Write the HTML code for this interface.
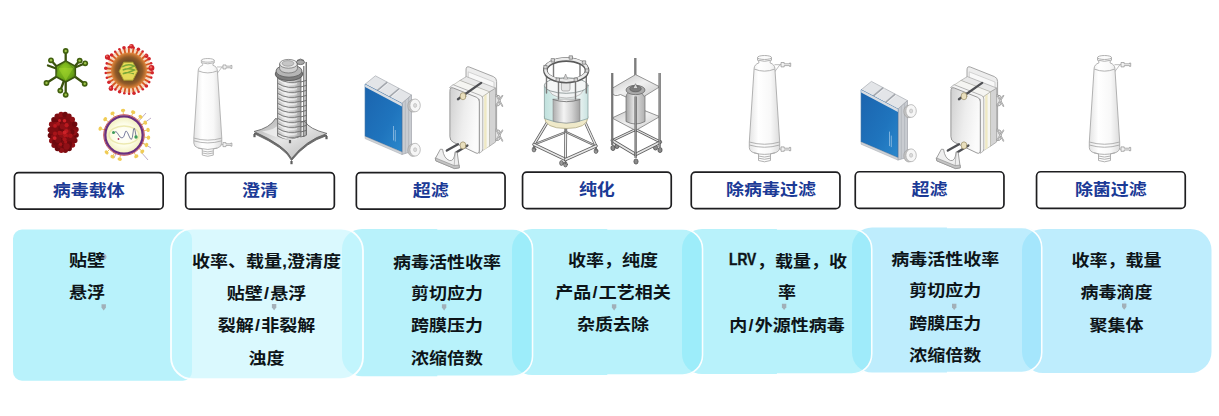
<!DOCTYPE html>
<html lang="zh-CN">
<head>
<meta charset="utf-8">
<title>病毒载体工艺流程</title>
<style>
html,body{margin:0;padding:0;background:#fff;}
#stage{position:relative;width:1219px;height:416px;overflow:hidden;background:#fff;
  font-family:"Liberation Sans","Noto Sans CJK SC",sans-serif;}
#bg{position:absolute;left:0;top:0;}
.lbl{position:absolute;box-sizing:border-box;border:0;
  height:38.2px;width:150.4px;background:transparent;color:#1b3a96;font-weight:700;font-size:18px;
  text-align:center;line-height:38.2px;}
.lbl span{display:inline-block;transform:scaleY(0.915);transform-origin:50% 50%;}
.t{position:absolute;width:200px;margin-left:-100px;text-align:center;white-space:nowrap;
  font-weight:700;font-size:18px;line-height:24px;height:24px;color:#0d1418;
  transform:scaleY(0.915);transform-origin:50% 50%;}
.t .en{display:inline-block;font-size:17.2px;transform:scaleX(0.8);transform-origin:0 50%;margin-right:-5.6px;position:relative;top:-3.4px;-webkit-text-stroke:0.45px #0d1418;}
.t .sl{margin:0 1.2px;}
.art{position:absolute;left:0;top:0;}
</style>
</head>
<body>
<div id="stage">
<svg id="bg" width="1219" height="416" viewBox="0 0 1219 416">
<path d="M1043,229 H1190.5 A21,21 0 0 1 1211.5,250 V352 A21,21 0 0 1 1190.5,373 H1043 A21,21 0 0 1 1022,352 V250 A21,21 0 0 1 1043,229 Z" fill="#96e2fb" fill-opacity="0.62"/>
<path d="M872,227.5 H1022.8 A20,20 0 0 1 1042.8,247.5 V352.5 A20,20 0 0 1 1022.8,372.5 H872 A20,20 0 0 1 852,352.5 V247.5 A20,20 0 0 1 872,227.5 Z" fill="#96e2fb" fill-opacity="0.62"/>
<path d="M946.9,227.5 H1021.8 A20,20 0 0 1 1041.8,247.5 V352.5 A20,20 0 0 1 1021.8,372.5 H946.9" fill="none" stroke="#fff" stroke-width="1.7" stroke-opacity="0.95"/>
<path d="M702,229 H852.8 A20,20 0 0 1 872.8,249 V354 A20,20 0 0 1 852.8,374 H702 A20,20 0 0 1 682,354 V249 A20,20 0 0 1 702,229 Z" fill="#8ceaf8" fill-opacity="0.62"/>
<path d="M776.9,229 H851.8 A20,20 0 0 1 871.8,249 V354 A20,20 0 0 1 851.8,374 H776.9" fill="none" stroke="#fff" stroke-width="1.7" stroke-opacity="0.95"/>
<path d="M532,229 H683.6 A20,20 0 0 1 703.6,249 V355 A20,20 0 0 1 683.6,375 H532 A20,20 0 0 1 512,355 V249 A20,20 0 0 1 532,229 Z" fill="#8ceaf8" fill-opacity="0.62"/>
<path d="M607.3,229 H682.6 A20,20 0 0 1 702.6,249 V355 A20,20 0 0 1 682.6,375 H607.3" fill="none" stroke="#fff" stroke-width="1.7" stroke-opacity="0.95"/>
<path d="M362,229 H513.6 A20,20 0 0 1 533.6,249 V356.3 A20,20 0 0 1 513.6,376.3 H362 A20,20 0 0 1 342,356.3 V249 A20,20 0 0 1 362,229 Z" fill="#8ceaf8" fill-opacity="0.62"/>
<path d="M437.3,229 H512.6 A20,20 0 0 1 532.6,249 V356.3 A20,20 0 0 1 512.6,376.3 H437.3" fill="none" stroke="#fff" stroke-width="1.7" stroke-opacity="0.95"/>
<path d="M22,229.5 H183 A9,9 0 0 1 192,238.5 V371.7 A9,9 0 0 1 183,380.7 H22 A9,9 0 0 1 13,371.7 V238.5 A9,9 0 0 1 22,229.5 Z" fill="#8ceaf8" fill-opacity="0.62"/>
<path d="M193,228.6 H341 A22,22 0 0 1 363,250.6 V357.2 A22,22 0 0 1 341,379.2 H193 A22,22 0 0 1 171,357.2 V250.6 A22,22 0 0 1 193,228.6 Z" fill="#c8f6fd" fill-opacity="0.667" stroke="#fff" stroke-width="1.8" stroke-opacity="0.92"/>
<path d="M101.5,304.2 h4.4 v3.4 l-2.2,2.8 l-2.2,-2.8 z" fill="#9fa9b0" fill-opacity="0.9"/>
<path d="M271.90000000000003,304.09999999999997 h4.4 v3.4 l-2.2,2.8 l-2.2,-2.8 z" fill="#9fa9b0" fill-opacity="0.9"/>
<path d="M441.90000000000003,304.2 h4.4 v3.4 l-2.2,2.8 l-2.2,-2.8 z" fill="#9fa9b0" fill-opacity="0.9"/>
<path d="M611.9,304.2 h4.4 v3.4 l-2.2,2.8 l-2.2,-2.8 z" fill="#9fa9b0" fill-opacity="0.9"/>
<path d="M781.9,303.79999999999995 h4.4 v3.4 l-2.2,2.8 l-2.2,-2.8 z" fill="#9fa9b0" fill-opacity="0.9"/>
<path d="M952.0,303.79999999999995 h4.4 v3.4 l-2.2,2.8 l-2.2,-2.8 z" fill="#9fa9b0" fill-opacity="0.9"/>
<path d="M1122.0,303.5 h4.4 v3.4 l-2.2,2.8 l-2.2,-2.8 z" fill="#9fa9b0" fill-opacity="0.9"/>
<circle cx="103.6" cy="256.8" r="2.9" fill="#a7b0c2"/>
<rect x="14.45" y="172.55" width="148.7" height="36.6" rx="4.2" fill="#fff" stroke="#1e1e20" stroke-width="1.7"/>
<rect x="185.65" y="172.55" width="148.7" height="36.6" rx="4.2" fill="#fff" stroke="#1e1e20" stroke-width="1.7"/>
<rect x="356.35" y="172.55" width="148.7" height="36.6" rx="4.2" fill="#fff" stroke="#1e1e20" stroke-width="1.7"/>
<rect x="522.55" y="172.05" width="148.7" height="36.6" rx="4.2" fill="#fff" stroke="#1e1e20" stroke-width="1.7"/>
<rect x="691.25" y="172.05" width="148.7" height="36.6" rx="4.2" fill="#fff" stroke="#1e1e20" stroke-width="1.7"/>
<rect x="855.25" y="171.75" width="148.7" height="36.6" rx="4.2" fill="#fff" stroke="#1e1e20" stroke-width="1.7"/>
<rect x="1036.55" y="171.75" width="148.7" height="36.6" rx="4.2" fill="#fff" stroke="#1e1e20" stroke-width="1.7"/>
</svg>
<div class="lbl" style="left:13.6px;top:171.7px;"><span>病毒载体</span></div>
<div class="lbl" style="left:184.8px;top:171.7px;"><span>澄清</span></div>
<div class="lbl" style="left:355.5px;top:171.7px;"><span>超滤</span></div>
<div class="lbl" style="left:521.7px;top:171.2px;"><span>纯化</span></div>
<div class="lbl" style="left:690.4px;top:171.2px;padding-left:11px;"><span>除病毒过滤</span></div>
<div class="lbl" style="left:854.4px;top:170.9px;"><span>超滤</span></div>
<div class="lbl" style="left:1035.7px;top:170.9px;"><span>除菌过滤</span></div>
<div class="t" style="left:87px;top:248.8px">贴壁</div>
<div class="t" style="left:87px;top:280.8px">悬浮</div>
<div class="t" style="left:266.5px;top:249.8px">收率、载量,澄清度</div>
<div class="t" style="left:266.5px;top:281.8px">贴壁<span class="sl">/</span>悬浮</div>
<div class="t" style="left:266.5px;top:313.8px">裂解<span class="sl">/</span>非裂解</div>
<div class="t" style="left:266.5px;top:346.7px">浊度</div>
<div class="t" style="left:447px;top:250.5px">病毒活性收率</div>
<div class="t" style="left:447px;top:282.4px">剪切应力</div>
<div class="t" style="left:447px;top:314.4px">跨膜压力</div>
<div class="t" style="left:447px;top:346.5px">浓缩倍数</div>
<div class="t" style="left:613px;top:248.8px">收率，纯度</div>
<div class="t" style="left:613px;top:280.8px">产品<span class="sl">/</span>工艺相关</div>
<div class="t" style="left:613px;top:313.3px">杂质去除</div>
<div class="t" style="left:787.8px;top:249.8px"><span class="en">LRV</span>，载量，收</div>
<div class="t" style="left:787px;top:281.3px">率</div>
<div class="t" style="left:787px;top:314.3px">内<span class="sl">/</span>外源性病毒</div>
<div class="t" style="left:945.3px;top:247.6px">病毒活性收率</div>
<div class="t" style="left:945.3px;top:279.4px">剪切应力</div>
<div class="t" style="left:945.3px;top:311.5px">跨膜压力</div>
<div class="t" style="left:945.3px;top:343.7px">浓缩倍数</div>
<div class="t" style="left:1116.4px;top:248.6px">收率，载量</div>
<div class="t" style="left:1116.4px;top:280.9px">病毒滴度</div>
<div class="t" style="left:1116.4px;top:313.6px">聚集体</div>
<svg class="art" width="1219" height="416" viewBox="0 0 1219 416">
<defs>
<radialGradient id="gvg" cx="0.45" cy="0.4" r="0.7"><stop offset="0" stop-color="#93cc22"/><stop offset="0.65" stop-color="#69a317"/><stop offset="1" stop-color="#4b7612"/></radialGradient>
<radialGradient id="ovg" cx="0.5" cy="0.5" r="0.5"><stop offset="0" stop-color="#5c4a30"/><stop offset="0.5" stop-color="#6a4a26"/><stop offset="0.75" stop-color="#8f5a28"/><stop offset="0.9" stop-color="#c27230"/><stop offset="1" stop-color="#dd8a3c" stop-opacity="0.9"/></radialGradient>
<radialGradient id="svg4" cx="0.5" cy="0.5" r="0.5"><stop offset="0" stop-color="#ffffff"/><stop offset="0.55" stop-color="#fdfde9"/><stop offset="1" stop-color="#efecb4"/></radialGradient>
<linearGradient id="capg" x1="0" x2="1" y1="0" y2="0"><stop offset="0" stop-color="#e4e4e4"/><stop offset="0.3" stop-color="#ffffff"/><stop offset="0.7" stop-color="#f8f8f8"/><stop offset="1" stop-color="#dcdcdc"/></linearGradient>
<linearGradient id="plg" x1="0" x2="1" y1="0" y2="1"><stop offset="0" stop-color="#a8a8a8"/><stop offset="0.45" stop-color="#e6e6e6"/><stop offset="1" stop-color="#b2b2b2"/></linearGradient>
<linearGradient id="colg" x1="0" x2="1" y1="0" y2="0"><stop offset="0" stop-color="#bdbdbd"/><stop offset="0.35" stop-color="#ececec"/><stop offset="0.7" stop-color="#d0d0d0"/><stop offset="1" stop-color="#9b9b9b"/></linearGradient>
<linearGradient id="blug" x1="0" x2="1" y1="0" y2="1"><stop offset="0" stop-color="#1b64ae"/><stop offset="0.6" stop-color="#1f74bd"/><stop offset="1" stop-color="#2b88cc"/></linearGradient>
<linearGradient id="fpg" x1="0" x2="1" y1="0" y2="0.3"><stop offset="0" stop-color="#cfcfcf"/><stop offset="0.55" stop-color="#ededed"/><stop offset="1" stop-color="#fbfbfb"/></linearGradient>
<linearGradient id="glsg" x1="0" x2="1" y1="0" y2="0"><stop offset="0" stop-color="#bfe0dc"/><stop offset="0.2" stop-color="#d3ebe8"/><stop offset="0.38" stop-color="#f2f8f7"/><stop offset="0.8" stop-color="#eaf3f2"/><stop offset="1" stop-color="#c9e2e0"/></linearGradient>
<linearGradient id="metg" x1="0" x2="1" y1="0" y2="0"><stop offset="0" stop-color="#adadad"/><stop offset="0.4" stop-color="#f4f4f4"/><stop offset="0.7" stop-color="#d2d2d2"/><stop offset="1" stop-color="#a2a2a2"/></linearGradient>
<linearGradient id="shg" x1="0" x2="1" y1="0" y2="1"><stop offset="0" stop-color="#c2c2c2"/><stop offset="0.5" stop-color="#f0f0f0"/><stop offset="1" stop-color="#c9c9c9"/></linearGradient>
<linearGradient id="cylg" x1="0" x2="1" y1="0" y2="0"><stop offset="0" stop-color="#a3a3a3"/><stop offset="0.4" stop-color="#e2e2e2"/><stop offset="1" stop-color="#b0b0b0"/></linearGradient>
</defs>
<line x1="65.7" y1="61.5" x2="65.7" y2="51.0" stroke="#3b520e" stroke-width="2.3" stroke-linecap="round"/>
<line x1="56.7" y1="66.5" x2="51.0" y2="60.3" stroke="#3b520e" stroke-width="2.3" stroke-linecap="round"/>
<line x1="56.2" y1="68.5" x2="48.0" y2="65.5" stroke="#3b520e" stroke-width="2.3" stroke-linecap="round"/>
<line x1="74.7" y1="66.5" x2="79.7" y2="60.6" stroke="#3b520e" stroke-width="2.3" stroke-linecap="round"/>
<line x1="75.0" y1="67.5" x2="85.2" y2="63.3" stroke="#3b520e" stroke-width="2.3" stroke-linecap="round"/>
<line x1="56.7" y1="76.5" x2="46.5" y2="83.0" stroke="#3b520e" stroke-width="2.3" stroke-linecap="round"/>
<line x1="74.7" y1="76.5" x2="84.7" y2="83.8" stroke="#3b520e" stroke-width="2.3" stroke-linecap="round"/>
<line x1="63.7" y1="81.5" x2="60.3" y2="90.6" stroke="#3b520e" stroke-width="2.3" stroke-linecap="round"/>
<line x1="65.7" y1="81.5" x2="65.7" y2="94.8" stroke="#3b520e" stroke-width="2.3" stroke-linecap="round"/>
<circle cx="65.7" cy="51.0" r="2.9" fill="#41600f"/><circle cx="65.7" cy="51.0" r="1.2" fill="#9fc54a"/>
<circle cx="51.0" cy="60.3" r="2.9" fill="#41600f"/><circle cx="51.0" cy="60.3" r="1.2" fill="#9fc54a"/>
<circle cx="79.7" cy="60.6" r="2.9" fill="#41600f"/><circle cx="79.7" cy="60.6" r="1.2" fill="#9fc54a"/>
<circle cx="85.2" cy="63.3" r="2.9" fill="#41600f"/><circle cx="85.2" cy="63.3" r="1.2" fill="#9fc54a"/>
<circle cx="46.5" cy="83.0" r="2.9" fill="#41600f"/><circle cx="46.5" cy="83.0" r="1.2" fill="#9fc54a"/>
<circle cx="84.7" cy="83.8" r="2.9" fill="#41600f"/><circle cx="84.7" cy="83.8" r="1.2" fill="#9fc54a"/>
<circle cx="60.3" cy="90.6" r="2.9" fill="#41600f"/><circle cx="60.3" cy="90.6" r="1.2" fill="#9fc54a"/>
<circle cx="65.7" cy="94.8" r="2.9" fill="#41600f"/><circle cx="65.7" cy="94.8" r="1.2" fill="#9fc54a"/>
<polygon points="65.7,61.0 75.3,66.2 75.3,76.8 65.7,82.0 56.1,76.8 56.1,66.2" fill="url(#gvg)" stroke="#3a5410" stroke-width="1.6" stroke-linejoin="round"/>
<polygon points="58.2,68.0 73.2,68.0 65.7,80.5" fill="#9fd22c" fill-opacity="0.55"/>
<path d="M65.7,61.0 L58.2,68.0 M65.7,61.0 L73.2,68.0 M56.1,76.8 L58.2,68.0 M75.3,76.8 L73.2,68.0" stroke="#55801a" stroke-width="0.6" fill="none"/>
<circle cx="129" cy="70.5" r="22.5" fill="#e9a468" fill-opacity="0.42"/>
<line x1="144.4" y1="72.0" x2="151.2" y2="72.7" stroke="#d9551f" stroke-width="1.8"/>
<circle cx="152.2" cy="72.8" r="1.8" fill="#d3262b"/>
<line x1="143.8" y1="75.2" x2="150.2" y2="77.3" stroke="#d9551f" stroke-width="1.8"/>
<circle cx="151.2" cy="77.6" r="1.3" fill="#d3262b"/>
<line x1="142.5" y1="78.2" x2="148.4" y2="81.6" stroke="#d9551f" stroke-width="1.8"/>
<circle cx="149.2" cy="82.1" r="1.3" fill="#d3262b"/>
<line x1="140.6" y1="80.8" x2="145.6" y2="85.3" stroke="#d9551f" stroke-width="1.8"/>
<circle cx="146.4" cy="86.0" r="1.8" fill="#d3262b"/>
<line x1="138.2" y1="83.0" x2="142.2" y2="88.5" stroke="#d9551f" stroke-width="1.8"/>
<circle cx="142.8" cy="89.3" r="1.3" fill="#d3262b"/>
<line x1="135.4" y1="84.6" x2="138.2" y2="90.8" stroke="#d9551f" stroke-width="1.8"/>
<circle cx="138.6" cy="91.7" r="1.3" fill="#d3262b"/>
<line x1="132.3" y1="85.6" x2="133.7" y2="92.3" stroke="#d9551f" stroke-width="1.8"/>
<circle cx="134.0" cy="93.3" r="1.8" fill="#d3262b"/>
<line x1="129.1" y1="86.0" x2="129.1" y2="92.8" stroke="#d9551f" stroke-width="1.8"/>
<circle cx="129.1" cy="93.8" r="1.3" fill="#d3262b"/>
<line x1="125.8" y1="85.7" x2="124.5" y2="92.3" stroke="#d9551f" stroke-width="1.8"/>
<circle cx="124.3" cy="93.3" r="1.3" fill="#d3262b"/>
<line x1="122.8" y1="84.7" x2="120.0" y2="90.9" stroke="#d9551f" stroke-width="1.8"/>
<circle cx="119.6" cy="91.8" r="1.8" fill="#d3262b"/>
<line x1="119.9" y1="83.1" x2="116.0" y2="88.6" stroke="#d9551f" stroke-width="1.8"/>
<circle cx="115.4" cy="89.4" r="1.3" fill="#d3262b"/>
<line x1="117.5" y1="80.9" x2="112.5" y2="85.5" stroke="#d9551f" stroke-width="1.8"/>
<circle cx="111.8" cy="86.2" r="1.3" fill="#d3262b"/>
<line x1="115.6" y1="78.3" x2="109.7" y2="81.7" stroke="#d9551f" stroke-width="1.8"/>
<circle cx="108.9" cy="82.2" r="1.8" fill="#d3262b"/>
<line x1="114.3" y1="75.4" x2="107.8" y2="77.5" stroke="#d9551f" stroke-width="1.8"/>
<circle cx="106.9" cy="77.8" r="1.3" fill="#d3262b"/>
<line x1="113.6" y1="72.2" x2="106.8" y2="72.9" stroke="#d9551f" stroke-width="1.8"/>
<circle cx="105.8" cy="73.0" r="1.3" fill="#d3262b"/>
<line x1="113.6" y1="69.0" x2="106.8" y2="68.3" stroke="#d9551f" stroke-width="1.8"/>
<circle cx="105.8" cy="68.2" r="1.8" fill="#d3262b"/>
<line x1="114.2" y1="65.8" x2="107.8" y2="63.7" stroke="#d9551f" stroke-width="1.8"/>
<circle cx="106.8" cy="63.4" r="1.3" fill="#d3262b"/>
<line x1="115.5" y1="62.8" x2="109.6" y2="59.4" stroke="#d9551f" stroke-width="1.8"/>
<circle cx="108.8" cy="58.9" r="1.3" fill="#d3262b"/>
<line x1="117.4" y1="60.2" x2="112.4" y2="55.7" stroke="#d9551f" stroke-width="1.8"/>
<circle cx="111.6" cy="55.0" r="1.8" fill="#d3262b"/>
<line x1="119.8" y1="58.0" x2="115.8" y2="52.5" stroke="#d9551f" stroke-width="1.8"/>
<circle cx="115.2" cy="51.7" r="1.3" fill="#d3262b"/>
<line x1="122.6" y1="56.4" x2="119.8" y2="50.2" stroke="#d9551f" stroke-width="1.8"/>
<circle cx="119.4" cy="49.3" r="1.3" fill="#d3262b"/>
<line x1="125.7" y1="55.4" x2="124.3" y2="48.7" stroke="#d9551f" stroke-width="1.8"/>
<circle cx="124.0" cy="47.7" r="1.8" fill="#d3262b"/>
<line x1="128.9" y1="55.0" x2="128.9" y2="48.2" stroke="#d9551f" stroke-width="1.8"/>
<circle cx="128.9" cy="47.2" r="1.3" fill="#d3262b"/>
<line x1="132.2" y1="55.3" x2="133.5" y2="48.7" stroke="#d9551f" stroke-width="1.8"/>
<circle cx="133.7" cy="47.7" r="1.3" fill="#d3262b"/>
<line x1="135.2" y1="56.3" x2="138.0" y2="50.1" stroke="#d9551f" stroke-width="1.8"/>
<circle cx="138.4" cy="49.2" r="1.8" fill="#d3262b"/>
<line x1="138.1" y1="57.9" x2="142.0" y2="52.4" stroke="#d9551f" stroke-width="1.8"/>
<circle cx="142.6" cy="51.6" r="1.3" fill="#d3262b"/>
<line x1="140.5" y1="60.1" x2="145.5" y2="55.5" stroke="#d9551f" stroke-width="1.8"/>
<circle cx="146.2" cy="54.8" r="1.3" fill="#d3262b"/>
<line x1="142.4" y1="62.7" x2="148.3" y2="59.3" stroke="#d9551f" stroke-width="1.8"/>
<circle cx="149.1" cy="58.8" r="1.8" fill="#d3262b"/>
<line x1="143.7" y1="65.6" x2="150.2" y2="63.5" stroke="#d9551f" stroke-width="1.8"/>
<circle cx="151.1" cy="63.2" r="1.3" fill="#d3262b"/>
<line x1="144.4" y1="68.8" x2="151.2" y2="68.1" stroke="#d9551f" stroke-width="1.8"/>
<circle cx="152.2" cy="68.0" r="1.3" fill="#d3262b"/>
<circle cx="129" cy="70.5" r="18" fill="url(#ovg)"/>
<circle cx="107.5" cy="57" r="2.6" fill="#cf2228"/><circle cx="106.9" cy="56.3" r="1.0" fill="#ee6a60"/>
<circle cx="151.5" cy="68" r="2.9" fill="#cf2228"/><circle cx="150.9" cy="67.3" r="1.2" fill="#ee6a60"/>
<circle cx="111" cy="88.5" r="2.4" fill="#cf2228"/><circle cx="110.4" cy="87.8" r="1.0" fill="#ee6a60"/>
<circle cx="131.5" cy="46.3" r="2.4" fill="#cf2228"/><circle cx="130.9" cy="45.599999999999994" r="1.0" fill="#ee6a60"/>
<circle cx="146.5" cy="56" r="2.0" fill="#cf2228"/><circle cx="145.9" cy="55.3" r="0.8" fill="#ee6a60"/>
<polygon points="119.1,71.2 123.7,62.2 132.9,62.2 137.5,71.2 132.9,80.2 123.7,80.2" fill="#e4da58" stroke="#a79a2c" stroke-width="0.9" stroke-linejoin="round"/>
<path d="M122.80000000000001,66.60000000000001 q5.5,-3.4 11.5,-0.4 q-6,3 -11.5,3.8 q5.5,-2.4 11.5,0 q-6,3 -11.5,3.8 q5.5,-2.4 10.5,-0.2" fill="none" stroke="#7aa838" stroke-width="1.5" stroke-linecap="round"/>
<ellipse cx="63.2" cy="132.4" rx="13.8" ry="18.9" fill="#7c0c11"/>
<circle cx="76.1" cy="135.1" r="2.7" fill="#6d090e"/>
<circle cx="74.8" cy="140.5" r="2.7" fill="#7f0d12"/>
<circle cx="72.5" cy="145.1" r="2.7" fill="#8f1016"/>
<circle cx="69.2" cy="148.5" r="2.7" fill="#6d090e"/>
<circle cx="65.3" cy="150.3" r="2.7" fill="#7f0d12"/>
<circle cx="61.3" cy="150.3" r="2.7" fill="#8f1016"/>
<circle cx="57.4" cy="148.6" r="2.7" fill="#6d090e"/>
<circle cx="54.1" cy="145.3" r="2.7" fill="#7f0d12"/>
<circle cx="51.7" cy="140.7" r="2.7" fill="#8f1016"/>
<circle cx="50.4" cy="135.4" r="2.7" fill="#6d090e"/>
<circle cx="50.3" cy="129.7" r="2.7" fill="#7f0d12"/>
<circle cx="51.6" cy="124.3" r="2.7" fill="#8f1016"/>
<circle cx="53.9" cy="119.7" r="2.7" fill="#6d090e"/>
<circle cx="57.2" cy="116.3" r="2.7" fill="#7f0d12"/>
<circle cx="61.1" cy="114.5" r="2.7" fill="#8f1016"/>
<circle cx="65.1" cy="114.5" r="2.7" fill="#6d090e"/>
<circle cx="69.0" cy="116.2" r="2.7" fill="#7f0d12"/>
<circle cx="72.3" cy="119.5" r="2.7" fill="#8f1016"/>
<circle cx="74.7" cy="124.1" r="2.7" fill="#6d090e"/>
<circle cx="76.0" cy="129.4" r="2.7" fill="#7f0d12"/>
<circle cx="55.3" cy="135.7" r="3.1" fill="#7f0d12"/>
<circle cx="53.5" cy="136.6" r="2.4" fill="#8f1016"/>
<circle cx="54.7" cy="134.2" r="2.4" fill="#7f0d12"/>
<circle cx="62.1" cy="136.7" r="3.0" fill="#8f1016"/>
<circle cx="57.6" cy="123.6" r="2.6" fill="#7f0d12"/>
<circle cx="58.3" cy="122.6" r="2.4" fill="#6d090e"/>
<circle cx="64.6" cy="129.1" r="2.2" fill="#6d090e"/>
<circle cx="55.3" cy="124.6" r="2.5" fill="#8f1016"/>
<circle cx="67.5" cy="123.3" r="2.8" fill="#7f0d12"/>
<circle cx="66.4" cy="132.5" r="2.9" fill="#7f0d12"/>
<circle cx="74.2" cy="132.2" r="3.0" fill="#8f1016"/>
<circle cx="63.0" cy="145.6" r="2.7" fill="#6d090e"/>
<circle cx="71.9" cy="138.1" r="2.6" fill="#7f0d12"/>
<circle cx="55.1" cy="142.1" r="3.0" fill="#6d090e"/>
<circle cx="65.6" cy="146.6" r="2.3" fill="#7f0d12"/>
<circle cx="70.1" cy="131.2" r="2.3" fill="#8f1016"/>
<circle cx="66.1" cy="144.2" r="2.5" fill="#7f0d12"/>
<circle cx="57.8" cy="145.3" r="3.0" fill="#6d090e"/>
<circle cx="69.3" cy="141.9" r="2.2" fill="#7f0d12"/>
<circle cx="64.5" cy="126.3" r="2.8" fill="#7f0d12"/>
<circle cx="52.3" cy="131.6" r="3.0" fill="#7f0d12"/>
<circle cx="60.9" cy="128.3" r="2.6" fill="#6d090e"/>
<circle cx="73.4" cy="132.4" r="3.2" fill="#8f1016"/>
<circle cx="59.8" cy="145.9" r="2.4" fill="#7f0d12"/>
<circle cx="71.7" cy="132.1" r="2.8" fill="#6d090e"/>
<circle cx="68.3" cy="131.9" r="2.5" fill="#8f1016"/>
<circle cx="60.4" cy="139.7" r="2.3" fill="#6d090e"/>
<circle cx="65.4" cy="144.1" r="2.2" fill="#7f0d12"/>
<circle cx="58.1" cy="139.8" r="3.2" fill="#7f0d12"/>
<circle cx="65.2" cy="127.5" r="2.6" fill="#8f1016"/>
<circle cx="69.1" cy="144.3" r="3.0" fill="#6d090e"/>
<circle cx="62.5" cy="126.4" r="2.8" fill="#8f1016"/>
<circle cx="66.7" cy="146.4" r="3.1" fill="#8f1016"/>
<circle cx="65.3" cy="134.0" r="2.3" fill="#8f1016"/>
<circle cx="66.4" cy="131.0" r="2.1" fill="#bb191f"/>
<circle cx="54.7" cy="138.1" r="1.9" fill="#cc2228"/>
<circle cx="65.6" cy="141.9" r="1.6" fill="#a81419"/>
<circle cx="55.0" cy="133.7" r="2.1" fill="#a81419"/>
<circle cx="60.6" cy="144.3" r="1.7" fill="#a81419"/>
<circle cx="67.4" cy="135.8" r="1.7" fill="#a81419"/>
<circle cx="64.6" cy="139.2" r="2.0" fill="#a81419"/>
<circle cx="65.0" cy="135.0" r="1.9" fill="#bb191f"/>
<circle cx="58.1" cy="123.7" r="2.0" fill="#a81419"/>
<circle cx="55.0" cy="125.9" r="1.9" fill="#bb191f"/>
<circle cx="59.5" cy="120.6" r="1.5" fill="#cc2228"/>
<circle cx="64.3" cy="133.9" r="1.8" fill="#a81419"/>
<circle cx="64.6" cy="132.4" r="2.0" fill="#cc2228"/>
<circle cx="70.5" cy="135.8" r="2.2" fill="#a81419"/>
<circle cx="64.5" cy="120.8" r="1.8" fill="#cc2228"/>
<circle cx="59.7" cy="133.0" r="2.3" fill="#a81419"/>
<circle cx="66.6" cy="125.2" r="2.1" fill="#bb191f"/>
<circle cx="61.5" cy="133.4" r="1.6" fill="#a81419"/>
<line x1="128" y1="133" x2="146" y2="113" stroke="#7b5a93" stroke-width="0.5"/>
<line x1="133" y1="131" x2="151" y2="118" stroke="#7b5a93" stroke-width="0.5"/>
<line x1="138" y1="140" x2="151" y2="148" stroke="#7b5a93" stroke-width="0.5"/>
<line x1="122" y1="140" x2="114" y2="158" stroke="#7b5a93" stroke-width="0.5"/>
<line x1="141" y1="152" x2="148" y2="160" stroke="#7b5a93" stroke-width="0.5"/>
<line x1="108.3" y1="121.8" x2="105.2" y2="119.2" stroke="#e2b73c" stroke-width="0.8"/>
<ellipse cx="105.2" cy="119.2" rx="2.2" ry="1.7" transform="rotate(-50 105.2 119.2)" fill="#f0cc55"/>
<line x1="114.4" y1="116.9" x2="112.5" y2="113.3" stroke="#e2b73c" stroke-width="0.8"/>
<ellipse cx="112.5" cy="113.3" rx="2.2" ry="1.7" transform="rotate(-28 112.5 113.3)" fill="#f0cc55"/>
<line x1="123.3" y1="114.5" x2="123.1" y2="110.4" stroke="#e2b73c" stroke-width="0.8"/>
<ellipse cx="123.1" cy="110.4" rx="2.2" ry="1.7" transform="rotate(-2 123.1 110.4)" fill="#f0cc55"/>
<line x1="131.7" y1="116.0" x2="133.2" y2="112.2" stroke="#e2b73c" stroke-width="0.8"/>
<ellipse cx="133.2" cy="112.2" rx="2.2" ry="1.7" transform="rotate(22 133.2 112.2)" fill="#f0cc55"/>
<line x1="137.7" y1="119.8" x2="140.5" y2="116.7" stroke="#e2b73c" stroke-width="0.8"/>
<ellipse cx="140.5" cy="116.7" rx="2.2" ry="1.7" transform="rotate(42 140.5 116.7)" fill="#f0cc55"/>
<line x1="141.8" y1="124.8" x2="145.3" y2="122.7" stroke="#e2b73c" stroke-width="0.8"/>
<ellipse cx="145.3" cy="122.7" rx="2.2" ry="1.7" transform="rotate(60 145.3 122.7)" fill="#f0cc55"/>
<line x1="144.1" y1="130.7" x2="148.1" y2="129.9" stroke="#e2b73c" stroke-width="0.8"/>
<ellipse cx="148.1" cy="129.9" rx="2.2" ry="1.7" transform="rotate(78 148.1 129.9)" fill="#f0cc55"/>
<line x1="144.4" y1="137.1" x2="148.5" y2="137.6" stroke="#e2b73c" stroke-width="0.8"/>
<ellipse cx="148.5" cy="137.6" rx="2.2" ry="1.7" transform="rotate(96 148.5 137.6)" fill="#f0cc55"/>
<line x1="142.7" y1="143.3" x2="146.5" y2="145.0" stroke="#e2b73c" stroke-width="0.8"/>
<ellipse cx="146.5" cy="145.0" rx="2.2" ry="1.7" transform="rotate(114 146.5 145.0)" fill="#f0cc55"/>
<line x1="139.2" y1="148.7" x2="142.3" y2="151.5" stroke="#e2b73c" stroke-width="0.8"/>
<ellipse cx="142.3" cy="151.5" rx="2.2" ry="1.7" transform="rotate(132 142.3 151.5)" fill="#f0cc55"/>
<line x1="134.2" y1="152.8" x2="136.3" y2="156.3" stroke="#e2b73c" stroke-width="0.8"/>
<ellipse cx="136.3" cy="156.3" rx="2.2" ry="1.7" transform="rotate(150 136.3 156.3)" fill="#f0cc55"/>
<line x1="109.5" y1="149.5" x2="106.6" y2="152.4" stroke="#e2b73c" stroke-width="0.8"/>
<ellipse cx="106.6" cy="152.4" rx="2.2" ry="1.7" transform="rotate(225 106.6 152.4)" fill="#f0cc55"/>
<line x1="114.4" y1="153.1" x2="112.5" y2="156.7" stroke="#e2b73c" stroke-width="0.8"/>
<ellipse cx="112.5" cy="156.7" rx="2.2" ry="1.7" transform="rotate(208 112.5 156.7)" fill="#f0cc55"/>
<line x1="120.4" y1="155.2" x2="119.7" y2="159.2" stroke="#e2b73c" stroke-width="0.8"/>
<ellipse cx="119.7" cy="159.2" rx="2.2" ry="1.7" transform="rotate(190 119.7 159.2)" fill="#f0cc55"/>
<line x1="104.2" y1="129.7" x2="100.2" y2="128.6" stroke="#e2b73c" stroke-width="0.8"/>
<ellipse cx="100.2" cy="128.6" rx="2.2" ry="1.7" transform="rotate(-75 100.2 128.6)" fill="#f0cc55"/>
<circle cx="124" cy="135" r="20.3" fill="url(#svg4)" stroke="#c43a4a" stroke-width="0.9"/>
<circle cx="124" cy="135" r="18.7" fill="none" stroke="#6b2f80" stroke-width="2.3"/>
<ellipse cx="124" cy="135" rx="15" ry="9" fill="none" stroke="#ece9b0" stroke-width="1.6"/>
<path d="M114,133 q2,-3 4,1 t4,4 t3,-5 t4,3 t4,-3 t3,3" fill="none" stroke="#5b5f86" stroke-width="0.8"/>
<circle cx="113.5" cy="132.5" r="1.5" fill="#3f9c5a"/><circle cx="136" cy="137" r="1.7" fill="#3f9c5a"/><circle cx="118.5" cy="139" r="0.9" fill="#b0305a"/>
<g transform="translate(207.8,58.5) scale(0.92)" stroke="#a9a9a9" stroke-width="0.9" fill="url(#capg)" stroke-linejoin="round">
<path d="M10,16.5 L15.5,9.2 M10,9.2 H17" fill="none" stroke="#a9a9a9" stroke-width="0.8"/>
<path d="M16.5,7 h3.2 v1.3 h5.3 v-0.8 h1.2 v3.4 h-1.2 v-0.8 h-5.3 v1.3 h-3.2 z" fill="#f1f1f1" stroke="#8f8f8f" stroke-width="0.7"/>
<path d="M14,93.6 H17" fill="none" stroke="#a9a9a9" stroke-width="0.8"/>
<path d="M16.5,91.4 h3.2 v1.3 h5.3 v-0.8 h1.2 v3.4 h-1.2 v-0.8 h-5.3 v1.3 h-3.2 z" fill="#f1f1f1" stroke="#8f8f8f" stroke-width="0.7"/>
<path d="M-7,2 V4.6 Q-5.6,5.4 -5.6,6.4 V7.4 Q-10.2,9 -10.4,13 L-15.2,86.5 V92 Q-15,96 -10.5,97.3 L-6,98.4 V105 Q0,107.6 6,105 V98.4 L10.5,97.3 Q15,96 15.2,92 V86.5 L10.4,13 Q10.2,9 5.6,7.4 V6.4 Q5.6,5.4 7,4.6 V2 Z"/>
<ellipse cx="0" cy="2" rx="7" ry="2" fill="#fbfbfb"/>
<path d="M-7,4.6 Q0,7 7,4.6 M-10.3,13.5 Q0,17.8 10.3,13.5 M-15.2,86.5 Q0,91 15.2,86.5 M-15.2,89.5 Q0,94 15.2,89.5 M-6,100.5 Q0,102.6 6,100.5 M-6,102.7 Q0,104.8 6,102.7 M-10.5,97.3 Q0,100.5 10.5,97.3" fill="none"/>
</g>
<g transform="translate(0,0)" stroke-linejoin="round">
<path d="M254,131.5 Q270,128 275.5,118.5 Q292,124 305,121.5 Q309,129 327,133.5 Q306,140 291.5,158.5 Q286,146 254,131.5 Z" transform="translate(0,2)" fill="#6e6e6e" stroke="#555" stroke-width="0.8"/>
<path d="M254,131.5 Q270,128 275.5,118.5 Q292,124 305,121.5 Q309,129 327,133.5 Q306,140 291.5,158.5 Q286,146 254,131.5 Z" fill="url(#plg)" stroke="#5e5e5e" stroke-width="0.8"/>
<path d="M262,131.5 Q276,129.5 280,123.5 L290,127 L276,137 Z" fill="#f2f2f2" fill-opacity="0.75"/>
<rect x="253.4" y="134" width="2.2" height="3.2" fill="#5f5f5f"/>
<rect x="325.4" y="136" width="2.2" height="3.2" fill="#5f5f5f"/>
<rect x="290.4" y="161" width="2.2" height="3.2" fill="#5f5f5f"/>
<rect x="288.9" y="140" width="2.2" height="3.2" fill="#5f5f5f"/>
<path d="M277.5,72 V136 Q289,142.5 301,136 V72 Z" fill="url(#colg)" stroke="#6f6f6f" stroke-width="0.8"/>
<path d="M277.5,78.3 Q288,84.9 301,81.1" fill="none" stroke="#7a7a7a" stroke-width="1.0"/>
<path d="M278.5,80.0 Q288,86.4 297,83.7" fill="none" stroke="#f6f6f6" stroke-width="0.8"/>
<path d="M277.5,83.3 Q288,89.9 301,86.1" fill="none" stroke="#7a7a7a" stroke-width="1.0"/>
<path d="M278.5,85.0 Q288,91.4 297,88.7" fill="none" stroke="#f6f6f6" stroke-width="0.8"/>
<path d="M277.5,88.3 Q288,94.9 301,91.1" fill="none" stroke="#7a7a7a" stroke-width="1.0"/>
<path d="M278.5,90.0 Q288,96.4 297,93.7" fill="none" stroke="#f6f6f6" stroke-width="0.8"/>
<path d="M277.5,93.3 Q288,99.9 301,96.1" fill="none" stroke="#7a7a7a" stroke-width="1.0"/>
<path d="M278.5,95.0 Q288,101.4 297,98.7" fill="none" stroke="#f6f6f6" stroke-width="0.8"/>
<path d="M277.5,98.3 Q288,104.9 301,101.1" fill="none" stroke="#7a7a7a" stroke-width="1.0"/>
<path d="M278.5,100.0 Q288,106.4 297,103.7" fill="none" stroke="#f6f6f6" stroke-width="0.8"/>
<path d="M277.5,103.3 Q288,109.9 301,106.1" fill="none" stroke="#7a7a7a" stroke-width="1.0"/>
<path d="M278.5,105.0 Q288,111.4 297,108.7" fill="none" stroke="#f6f6f6" stroke-width="0.8"/>
<path d="M277.5,108.3 Q288,114.9 301,111.1" fill="none" stroke="#7a7a7a" stroke-width="1.0"/>
<path d="M278.5,110.0 Q288,116.4 297,113.7" fill="none" stroke="#f6f6f6" stroke-width="0.8"/>
<path d="M277.5,113.3 Q288,119.9 301,116.1" fill="none" stroke="#7a7a7a" stroke-width="1.0"/>
<path d="M278.5,115.0 Q288,121.4 297,118.7" fill="none" stroke="#f6f6f6" stroke-width="0.8"/>
<path d="M277.5,118.3 Q288,124.9 301,121.1" fill="none" stroke="#7a7a7a" stroke-width="1.0"/>
<path d="M278.5,120.0 Q288,126.4 297,123.7" fill="none" stroke="#f6f6f6" stroke-width="0.8"/>
<path d="M277.5,123.3 Q288,129.9 301,126.1" fill="none" stroke="#7a7a7a" stroke-width="1.0"/>
<path d="M278.5,125.0 Q288,131.4 297,128.7" fill="none" stroke="#f6f6f6" stroke-width="0.8"/>
<path d="M277.5,128.3 Q288,134.9 301,131.1" fill="none" stroke="#7a7a7a" stroke-width="1.0"/>
<path d="M278.5,130.0 Q288,136.4 297,133.7" fill="none" stroke="#f6f6f6" stroke-width="0.8"/>
<path d="M277.5,133.3 Q288,139.9 301,136.1" fill="none" stroke="#7a7a7a" stroke-width="1.0"/>
<path d="M278.5,135.0 Q288,141.4 297,138.7" fill="none" stroke="#f6f6f6" stroke-width="0.8"/>
<line x1="303.8" y1="66" x2="303.8" y2="137" stroke="#6d6d6d" stroke-width="1.2"/><line x1="306.2" y1="62" x2="306.2" y2="135" stroke="#555" stroke-width="1.2"/>
<line x1="300.5" y1="82.0" x2="306.5" y2="80.4" stroke="#666" stroke-width="0.9"/>
<line x1="300.5" y1="87.0" x2="306.5" y2="85.4" stroke="#666" stroke-width="0.9"/>
<line x1="300.5" y1="92.0" x2="306.5" y2="90.4" stroke="#666" stroke-width="0.9"/>
<line x1="300.5" y1="97.0" x2="306.5" y2="95.4" stroke="#666" stroke-width="0.9"/>
<line x1="300.5" y1="102.0" x2="306.5" y2="100.4" stroke="#666" stroke-width="0.9"/>
<line x1="300.5" y1="107.0" x2="306.5" y2="105.4" stroke="#666" stroke-width="0.9"/>
<line x1="300.5" y1="112.0" x2="306.5" y2="110.4" stroke="#666" stroke-width="0.9"/>
<line x1="300.5" y1="117.0" x2="306.5" y2="115.4" stroke="#666" stroke-width="0.9"/>
<line x1="300.5" y1="122.0" x2="306.5" y2="120.4" stroke="#666" stroke-width="0.9"/>
<line x1="300.5" y1="127.0" x2="306.5" y2="125.4" stroke="#666" stroke-width="0.9"/>
<line x1="300.5" y1="132.0" x2="306.5" y2="130.4" stroke="#666" stroke-width="0.9"/>
<line x1="300.5" y1="137.0" x2="306.5" y2="135.4" stroke="#666" stroke-width="0.9"/>
<ellipse cx="289" cy="74" rx="13.8" ry="6.6" fill="#7d7d7d" stroke="#4f4f4f" stroke-width="0.8"/>
<ellipse cx="289" cy="71" rx="13" ry="6.2" fill="#b5b5b5" stroke="#5a5a5a" stroke-width="0.8"/>
<path d="M279.6,63.8 V68.6 A8.9,4.4 0 0 0 297.4,68.6 V63.8 Z" fill="#cfcfcf" stroke="#666" stroke-width="0.7"/>
<ellipse cx="288.5" cy="63.8" rx="8.9" ry="4.4" fill="#e9e9e9" stroke="#666" stroke-width="0.7"/>
<ellipse cx="288" cy="63.4" rx="5.8" ry="2.8" fill="#c6c6c6" stroke="#7a7a7a" stroke-width="0.5"/>
<ellipse cx="300.5" cy="62.2" rx="4" ry="2.4" fill="#a9a9a9" stroke="#4f4f4f" stroke-width="0.7"/>
<path d="M297,60.5 q3.5,-3 7,0" fill="none" stroke="#555" stroke-width="0.7"/>
</g>
<g transform="translate(0,0)" stroke-linejoin="round">
<polygon points="365.1,84.2 375.4,75.8 411.5,95.0 401.9,103.5" fill="#e3e5e8" stroke="#a9adb3" stroke-width="0.7"/>
<polygon points="401.9,103.5 411.5,95.0 411.5,151.6 401.9,154.5" fill="#c9ccd1" stroke="#a0a4aa" stroke-width="0.7"/>
<line x1="405.3" y1="100.5" x2="405.3" y2="153.5" stroke="#aeb2b8" stroke-width="0.7"/>
<line x1="408.6" y1="97.5" x2="408.6" y2="152.5" stroke="#aeb2b8" stroke-width="0.7"/>
<line x1="377.2" y1="90.6" x2="387.3" y2="82.1" stroke="#a3a7ad" stroke-width="1.6"/>
<line x1="378.4" y1="91.3" x2="388.5" y2="82.8" stroke="#f3f4f6" stroke-width="0.7"/>
<line x1="389.4" y1="96.9" x2="399.2" y2="88.5" stroke="#a3a7ad" stroke-width="1.6"/>
<line x1="390.6" y1="97.6" x2="400.4" y2="89.2" stroke="#f3f4f6" stroke-width="0.7"/>
<polygon points="365.1,84.2 401.9,103.5 401.9,152.1 365.1,136.4" fill="url(#blug)" stroke="#1d5c9b" stroke-width="0.6"/>
<polygon points="365.1,84.2 401.9,103.5 401.9,106.4 365.1,87.0" fill="#d9dde2"/>
<polygon points="365.1,136.4 401.9,152.1 401.9,154.5 365.1,138.6" fill="#cfd3d8" stroke="#a0a4aa" stroke-width="0.5"/>
<path d="M393.5,126 v14.5 M395.3,130 v11.5" stroke="#bcd7ee" stroke-width="0.6" fill="none"/>
<ellipse cx="412.8" cy="105.9" rx="5" ry="6.2" fill="#c4c4c4" stroke="#9a9a9a" stroke-width="0.6"/>
<ellipse cx="415.1" cy="105.4" rx="5.2" ry="6.4" fill="#f6f6f6" stroke="#a8a8a8" stroke-width="0.7"/>
<ellipse cx="415.1" cy="105.4" rx="1.6" ry="2" fill="#dadada" stroke="#b0b0b0" stroke-width="0.5"/>
<ellipse cx="412.8" cy="150.2" rx="5" ry="6.2" fill="#c4c4c4" stroke="#9a9a9a" stroke-width="0.6"/>
<ellipse cx="415.1" cy="149.7" rx="5.2" ry="6.4" fill="#f6f6f6" stroke="#a8a8a8" stroke-width="0.7"/>
<ellipse cx="415.1" cy="149.7" rx="1.6" ry="2" fill="#dadada" stroke="#b0b0b0" stroke-width="0.5"/>
</g>
<g transform="translate(0,0)" stroke-linejoin="round" stroke-linecap="round">
<path d="M466,69.6 Q466,65.8 469.3,67 L493.4,76.6 Q496.6,77.9 496.6,81.5 V133 Q496.6,136.8 493.4,135.6 L469.3,126 Q466,124.7 466,121 Z" fill="#ededed" stroke="#9c9c9c" stroke-width="0.9"/>
<path d="M468.6,72 L494,82 V131.5 L468.6,121.5 Z" fill="#f8f8f8" stroke="#c4c4c4" stroke-width="0.7"/>
<path d="M493.5,97.2 l4.5,-2 l2,1.2 v8 l-2,1.6 l-4.5,-1.8 z" fill="#e6e6e6" stroke="#7d7d7d" stroke-width="0.7"/>
<path d="M496,94.7 L502.5,106.2 M502.5,95.7 L496,105.7" stroke="#8a8a8a" stroke-width="1.5" fill="none"/>
<path d="M496,94.7 L502.5,106.2 M502.5,95.7 L496,105.7" stroke="#ececec" stroke-width="0.6" fill="none"/>
<path d="M493.5,131.8 l4.5,-2 l2,1.2 v8 l-2,1.6 l-4.5,-1.8 z" fill="#e6e6e6" stroke="#7d7d7d" stroke-width="0.7"/>
<path d="M496,129.3 L502.5,140.8 M502.5,130.3 L496,140.3" stroke="#8a8a8a" stroke-width="1.5" fill="none"/>
<path d="M496,129.3 L502.5,140.8 M502.5,130.3 L496,140.3" stroke="#ececec" stroke-width="0.6" fill="none"/>
<polygon points="489.5,91.8 495.6,88.0 495.6,142.0 489.5,146.2" fill="#d4d4d4" stroke="#8f8f8f" stroke-width="0.6"/>
<polygon points="460.0,80.4 466.4,76.6 495.6,88.0 489.5,91.8" fill="#e9e9e9" stroke="#9a9a9a" stroke-width="0.6"/>
<polygon points="482.6,96.5 489.5,91.8 489.5,146.2 482.6,150.6" fill="#f6f6f1" stroke="#adadA0" stroke-width="0.6"/>
<polygon points="484.2,95.4 486.6,93.8 486.6,148.0 484.2,149.6" fill="#efe9c4"/>
<polygon points="453.2,85.0 460.0,80.4 489.5,91.8 482.6,96.5" fill="#f5f5f2" stroke="#a8a8a0" stroke-width="0.6"/>
<path d="M453.4,84.8 L480.5,95.4 Q482.8,96.4 482.8,99 V148.6 Q482.8,151.6 480.6,152.4 L479.3,153.3 V99.3 L449.9,87.7 Z" fill="#f4f4f4" stroke="#9a9a9a" stroke-width="0.7"/>
<path d="M449.9,91 Q449.9,86.6 453.4,88 L476.3,97.2 Q479.3,98.4 479.3,101.8 V150 Q479.3,154.4 476,153 L453.2,142.2 Q449.9,140.6 449.9,137 Z" fill="url(#fpg)" stroke="#8f8f8f" stroke-width="0.9"/>
<line x1="457.9" y1="99.2" x2="481.2" y2="82.9" stroke="#4f5054" stroke-width="2.3"/>
<line x1="446.8" y1="150.6" x2="458" y2="144.2" stroke="#4f5054" stroke-width="2.3"/>
<line x1="456.5" y1="152.2" x2="467.4" y2="145.4" stroke="#4f5054" stroke-width="2.3"/>
<ellipse cx="463" cy="96.2" rx="2.9" ry="3.6" fill="#e9dfbd" stroke="#8c7d58" stroke-width="0.6"/>
<ellipse cx="463" cy="145.4" rx="2.9" ry="3.6" fill="#e9dfbd" stroke="#8c7d58" stroke-width="0.6"/>
<path d="M435.6,158 L440.4,149.2 L442.6,149.4 Q443.8,158.6 449.6,160.6 Q454.2,161.4 455.2,152 L457.2,152.4 L459.3,167.8 L454.6,168.6 L436.2,161 Z" fill="#efefef" stroke="#8c8c8c" stroke-width="0.8"/>
<path d="M435.6,158 L454.2,165.6 L459.2,165 L459.3,167.8 L454.6,168.6 L436.2,161 Z" fill="#c4c4c4" stroke="#8c8c8c" stroke-width="0.6"/>
<path d="M454.2,165.6 L455.2,152" stroke="#9a9a9a" stroke-width="0.6" fill="none"/>
</g>
<g stroke-linejoin="round" stroke-linecap="round">
<line x1="534" y1="144.5" x2="566" y2="132" stroke="#5f5f5f" stroke-width="2.2"/><line x1="534" y1="144.5" x2="566" y2="132" stroke="#e9e9e9" stroke-width="0.7"/>
<line x1="566" y1="132" x2="596" y2="146" stroke="#5f5f5f" stroke-width="2.2"/><line x1="566" y1="132" x2="596" y2="146" stroke="#e9e9e9" stroke-width="0.7"/>
<ellipse cx="534" cy="149.5" rx="1.9" ry="2.5" fill="#9a9a9a" stroke="#444" stroke-width="0.6"/>
<ellipse cx="596" cy="151" rx="1.9" ry="2.5" fill="#9a9a9a" stroke="#444" stroke-width="0.6"/>
<ellipse cx="565.5" cy="164.5" rx="1.9" ry="2.5" fill="#9a9a9a" stroke="#444" stroke-width="0.6"/>
<ellipse cx="561.5" cy="163" rx="1.9" ry="2.5" fill="#9a9a9a" stroke="#444" stroke-width="0.6"/>
<line x1="534" y1="144.5" x2="534" y2="148.5" stroke="#666" stroke-width="1.6"/>
<line x1="565.5" y1="159.5" x2="565.5" y2="163.5" stroke="#666" stroke-width="1.6"/>
<line x1="596" y1="146" x2="596" y2="150" stroke="#666" stroke-width="1.6"/>
<line x1="547.5" y1="122" x2="534" y2="144.5" stroke="#5f5f5f" stroke-width="2.8"/><line x1="547.5" y1="122" x2="534" y2="144.5" stroke="#e9e9e9" stroke-width="1.3"/>
<line x1="585" y1="122" x2="596" y2="146" stroke="#5f5f5f" stroke-width="2.8"/><line x1="585" y1="122" x2="596" y2="146" stroke="#e9e9e9" stroke-width="1.3"/>
<line x1="565.8" y1="126" x2="565.5" y2="159.5" stroke="#5f5f5f" stroke-width="2.8"/><line x1="565.8" y1="126" x2="565.5" y2="159.5" stroke="#e9e9e9" stroke-width="1.3"/>
<line x1="566" y1="126" x2="566" y2="132" stroke="#5f5f5f" stroke-width="2.0"/><line x1="566" y1="126" x2="566" y2="132" stroke="#e9e9e9" stroke-width="0.5"/>
<line x1="534" y1="144.5" x2="565.5" y2="159.5" stroke="#5f5f5f" stroke-width="3.1999999999999997"/><line x1="534" y1="144.5" x2="565.5" y2="159.5" stroke="#e9e9e9" stroke-width="1.7"/>
<line x1="565.5" y1="159.5" x2="596" y2="146" stroke="#5f5f5f" stroke-width="3.1999999999999997"/><line x1="565.5" y1="159.5" x2="596" y2="146" stroke="#e9e9e9" stroke-width="1.7"/>
<path d="M544.4,117 Q544.4,128.5 566.2,128.5 Q588,128.5 588,117 Z" fill="#efe9c9" stroke="#a9a27c" stroke-width="0.7"/>
<path d="M544.4,86 V118.5 Q566.2,127.5 588,118.5 V86 Z" fill="url(#glsg)" stroke="#7f9a9a" stroke-width="0.7"/>
<path d="M553,99.5 V121 Q566.2,125 580,121 V99.5 Z" fill="url(#metg)" stroke="#7d7d7d" stroke-width="0.5"/>
<path d="M553,99.5 Q566.2,104 580,99.5" fill="none" stroke="#6a6a6a" stroke-width="0.8"/>
<path d="M547.5,84 Q547.5,98 566.2,98 Q585,98 585,84 Z" fill="#f1f3f3" stroke="#9a9a9a" stroke-width="0.6"/>
<ellipse cx="566.2" cy="85.5" rx="21.8" ry="7.8" fill="#f4f6f6" stroke="#7f8a8a" stroke-width="0.8"/>
<rect x="561.4" y="79.5" width="8.6" height="11.5" rx="2" fill="#e6e6e6" stroke="#8a8a8a" stroke-width="0.6"/>
<path d="M563.2,79.5 l2.4,-5.5 l2.4,5.5 z" fill="#cfcfcf" stroke="#777" stroke-width="0.5"/>
<line x1="546.5" y1="71.5" x2="546.5" y2="93" stroke="#7a7a7a" stroke-width="1.4"/>
<line x1="586.3" y1="71.5" x2="586.3" y2="93" stroke="#7a7a7a" stroke-width="1.4"/>
<line x1="558.5" y1="80" x2="558.5" y2="99" stroke="#7a7a7a" stroke-width="1.4"/>
<line x1="575.5" y1="80" x2="575.5" y2="99" stroke="#7a7a7a" stroke-width="1.4"/>
<line x1="553.5" y1="63.5" x2="553.5" y2="79" stroke="#7a7a7a" stroke-width="1.4"/>
<line x1="580" y1="63.5" x2="580" y2="79" stroke="#7a7a7a" stroke-width="1.4"/>
<ellipse cx="566.2" cy="70.4" rx="20.8" ry="10.8" fill="none" stroke="#5a5a5a" stroke-width="4.6"/>
<ellipse cx="566.2" cy="69.8" rx="20.8" ry="10.8" fill="none" stroke="#ebebeb" stroke-width="2.6"/>
<rect x="544.1" y="65.39999999999999" width="3" height="3.4" fill="#d4d4d4" stroke="#5f5f5f" stroke-width="0.6"/>
<rect x="551.5" y="58.6" width="3" height="3.4" fill="#d4d4d4" stroke="#5f5f5f" stroke-width="0.6"/>
<rect x="569.5" y="55.800000000000004" width="3" height="3.4" fill="#d4d4d4" stroke="#5f5f5f" stroke-width="0.6"/>
<rect x="582.7" y="60.800000000000004" width="3" height="3.4" fill="#d4d4d4" stroke="#5f5f5f" stroke-width="0.6"/>
<rect x="585.7" y="68.89999999999999" width="3" height="3.4" fill="#d4d4d4" stroke="#5f5f5f" stroke-width="0.6"/>
<rect x="556.5" y="78.0" width="3" height="3.4" fill="#d4d4d4" stroke="#5f5f5f" stroke-width="0.6"/>
<rect x="574.5" y="78.0" width="3" height="3.4" fill="#d4d4d4" stroke="#5f5f5f" stroke-width="0.6"/>
</g>
<g stroke-linejoin="round">
<line x1="635.3" y1="58" x2="635.3" y2="132" stroke="#585858" stroke-width="2.2"/><line x1="635.0999999999999" y1="58" x2="635.0999999999999" y2="132" stroke="#c4c4c4" stroke-width="0.6"/>
<ellipse cx="613" cy="148" rx="2.1" ry="2.6" fill="#8b8b8b" stroke="#3f3f3f" stroke-width="0.7"/>
<ellipse cx="660" cy="150" rx="2.1" ry="2.6" fill="#8b8b8b" stroke="#3f3f3f" stroke-width="0.7"/>
<ellipse cx="636" cy="161.5" rx="2.1" ry="2.6" fill="#8b8b8b" stroke="#3f3f3f" stroke-width="0.7"/>
<ellipse cx="655.5" cy="147.5" rx="2.1" ry="2.6" fill="#8b8b8b" stroke="#3f3f3f" stroke-width="0.7"/>
<ellipse cx="617" cy="146" rx="2.1" ry="2.6" fill="#8b8b8b" stroke="#3f3f3f" stroke-width="0.7"/>
<line x1="612.3" y1="140.5" x2="635.6" y2="129.5" stroke="#5c5c5c" stroke-width="2.6" stroke-linecap="round"/><line x1="612.3" y1="140.5" x2="635.6" y2="129.5" stroke="#e6e6e6" stroke-width="1.1" stroke-linecap="round"/>
<line x1="635.6" y1="129.5" x2="660.5" y2="142" stroke="#5c5c5c" stroke-width="2.6" stroke-linecap="round"/><line x1="635.6" y1="129.5" x2="660.5" y2="142" stroke="#e6e6e6" stroke-width="1.1" stroke-linecap="round"/>
<line x1="612.3" y1="140.5" x2="635.6" y2="154.5" stroke="#5c5c5c" stroke-width="3.4" stroke-linecap="round"/><line x1="612.3" y1="140.5" x2="635.6" y2="154.5" stroke="#e6e6e6" stroke-width="1.9" stroke-linecap="round"/>
<line x1="635.6" y1="154.5" x2="660.5" y2="142" stroke="#5c5c5c" stroke-width="3.4" stroke-linecap="round"/><line x1="635.6" y1="154.5" x2="660.5" y2="142" stroke="#e6e6e6" stroke-width="1.9" stroke-linecap="round"/>
<polygon points="612.0,118.0 635.6,107.0 659.7,116.6 635.6,130.5" fill="url(#shg)" stroke="#7c7c7c" stroke-width="0.8"/>
<path d="M626,90 V121.5 Q635.5,126.5 645,121.5 V90 Z" fill="url(#cylg)" stroke="#6a6a6a" stroke-width="0.7"/>
<path d="M612,88.4 L635.6,74.6 L659.7,86.8 L644,96.5 Q641,89.5 633.5,90.3 Q626.5,91.5 626,97 L620.5,94.5 Q614,97.5 612,92.5 Z" fill="url(#shg)" stroke="#7c7c7c" stroke-width="0.8"/>
<ellipse cx="635.5" cy="90" rx="9.5" ry="4.7" fill="#a9a9a9" stroke="#5f5f5f" stroke-width="0.7"/>
<ellipse cx="635.5" cy="88.8" rx="5.8" ry="3" fill="#7d7d7d" stroke="#4a4a4a" stroke-width="0.5"/>
<path d="M633,88.5 l2.5,-4.8 l2.5,4.8 z" fill="#d8d8d8" stroke="#555" stroke-width="0.5"/>
<line x1="612.2" y1="73" x2="612.2" y2="145" stroke="#585858" stroke-width="2.2"/><line x1="612.0" y1="73" x2="612.0" y2="145" stroke="#c4c4c4" stroke-width="0.6"/>
<line x1="659.6" y1="73" x2="659.6" y2="147" stroke="#585858" stroke-width="2.2"/><line x1="659.4" y1="73" x2="659.4" y2="147" stroke="#c4c4c4" stroke-width="0.6"/>
<line x1="635.6" y1="96.5" x2="635.6" y2="158" stroke="#585858" stroke-width="2.2"/><line x1="635.4" y1="96.5" x2="635.4" y2="158" stroke="#c4c4c4" stroke-width="0.6"/>
</g>
<g transform="translate(764.5,55.5) scale(1.0)" stroke="#a9a9a9" stroke-width="0.9" fill="url(#capg)" stroke-linejoin="round">
<path d="M10,16.5 L15.5,9.2 M10,9.2 H17" fill="none" stroke="#a9a9a9" stroke-width="0.8"/>
<path d="M16.5,7 h3.2 v1.3 h5.3 v-0.8 h1.2 v3.4 h-1.2 v-0.8 h-5.3 v1.3 h-3.2 z" fill="#f1f1f1" stroke="#8f8f8f" stroke-width="0.7"/>
<path d="M14,93.6 H17" fill="none" stroke="#a9a9a9" stroke-width="0.8"/>
<path d="M16.5,91.4 h3.2 v1.3 h5.3 v-0.8 h1.2 v3.4 h-1.2 v-0.8 h-5.3 v1.3 h-3.2 z" fill="#f1f1f1" stroke="#8f8f8f" stroke-width="0.7"/>
<path d="M-7,2 V4.6 Q-5.6,5.4 -5.6,6.4 V7.4 Q-10.2,9 -10.4,13 L-15.2,86.5 V92 Q-15,96 -10.5,97.3 L-6,98.4 V105 Q0,107.6 6,105 V98.4 L10.5,97.3 Q15,96 15.2,92 V86.5 L10.4,13 Q10.2,9 5.6,7.4 V6.4 Q5.6,5.4 7,4.6 V2 Z"/>
<ellipse cx="0" cy="2" rx="7" ry="2" fill="#fbfbfb"/>
<path d="M-7,4.6 Q0,7 7,4.6 M-10.3,13.5 Q0,17.8 10.3,13.5 M-15.2,86.5 Q0,91 15.2,86.5 M-15.2,89.5 Q0,94 15.2,89.5 M-6,100.5 Q0,102.6 6,100.5 M-6,102.7 Q0,104.8 6,102.7 M-10.5,97.3 Q0,100.5 10.5,97.3" fill="none"/>
</g>
<g transform="translate(496,5.6)" stroke-linejoin="round">
<polygon points="365.1,84.2 375.4,75.8 411.5,95.0 401.9,103.5" fill="#e3e5e8" stroke="#a9adb3" stroke-width="0.7"/>
<polygon points="401.9,103.5 411.5,95.0 411.5,151.6 401.9,154.5" fill="#c9ccd1" stroke="#a0a4aa" stroke-width="0.7"/>
<line x1="405.3" y1="100.5" x2="405.3" y2="153.5" stroke="#aeb2b8" stroke-width="0.7"/>
<line x1="408.6" y1="97.5" x2="408.6" y2="152.5" stroke="#aeb2b8" stroke-width="0.7"/>
<line x1="377.2" y1="90.6" x2="387.3" y2="82.1" stroke="#a3a7ad" stroke-width="1.6"/>
<line x1="378.4" y1="91.3" x2="388.5" y2="82.8" stroke="#f3f4f6" stroke-width="0.7"/>
<line x1="389.4" y1="96.9" x2="399.2" y2="88.5" stroke="#a3a7ad" stroke-width="1.6"/>
<line x1="390.6" y1="97.6" x2="400.4" y2="89.2" stroke="#f3f4f6" stroke-width="0.7"/>
<polygon points="365.1,84.2 401.9,103.5 401.9,152.1 365.1,136.4" fill="url(#blug)" stroke="#1d5c9b" stroke-width="0.6"/>
<polygon points="365.1,84.2 401.9,103.5 401.9,106.4 365.1,87.0" fill="#d9dde2"/>
<polygon points="365.1,136.4 401.9,152.1 401.9,154.5 365.1,138.6" fill="#cfd3d8" stroke="#a0a4aa" stroke-width="0.5"/>
<path d="M393.5,126 v14.5 M395.3,130 v11.5" stroke="#bcd7ee" stroke-width="0.6" fill="none"/>
<ellipse cx="412.8" cy="105.9" rx="5" ry="6.2" fill="#c4c4c4" stroke="#9a9a9a" stroke-width="0.6"/>
<ellipse cx="415.1" cy="105.4" rx="5.2" ry="6.4" fill="#f6f6f6" stroke="#a8a8a8" stroke-width="0.7"/>
<ellipse cx="415.1" cy="105.4" rx="1.6" ry="2" fill="#dadada" stroke="#b0b0b0" stroke-width="0.5"/>
<ellipse cx="412.8" cy="150.2" rx="5" ry="6.2" fill="#c4c4c4" stroke="#9a9a9a" stroke-width="0.6"/>
<ellipse cx="415.1" cy="149.7" rx="5.2" ry="6.4" fill="#f6f6f6" stroke="#a8a8a8" stroke-width="0.7"/>
<ellipse cx="415.1" cy="149.7" rx="1.6" ry="2" fill="#dadada" stroke="#b0b0b0" stroke-width="0.5"/>
</g>
<g transform="translate(501,0)" stroke-linejoin="round" stroke-linecap="round">
<path d="M466,69.6 Q466,65.8 469.3,67 L493.4,76.6 Q496.6,77.9 496.6,81.5 V133 Q496.6,136.8 493.4,135.6 L469.3,126 Q466,124.7 466,121 Z" fill="#ededed" stroke="#9c9c9c" stroke-width="0.9"/>
<path d="M468.6,72 L494,82 V131.5 L468.6,121.5 Z" fill="#f8f8f8" stroke="#c4c4c4" stroke-width="0.7"/>
<path d="M493.5,97.2 l4.5,-2 l2,1.2 v8 l-2,1.6 l-4.5,-1.8 z" fill="#e6e6e6" stroke="#7d7d7d" stroke-width="0.7"/>
<path d="M496,94.7 L502.5,106.2 M502.5,95.7 L496,105.7" stroke="#8a8a8a" stroke-width="1.5" fill="none"/>
<path d="M496,94.7 L502.5,106.2 M502.5,95.7 L496,105.7" stroke="#ececec" stroke-width="0.6" fill="none"/>
<path d="M493.5,131.8 l4.5,-2 l2,1.2 v8 l-2,1.6 l-4.5,-1.8 z" fill="#e6e6e6" stroke="#7d7d7d" stroke-width="0.7"/>
<path d="M496,129.3 L502.5,140.8 M502.5,130.3 L496,140.3" stroke="#8a8a8a" stroke-width="1.5" fill="none"/>
<path d="M496,129.3 L502.5,140.8 M502.5,130.3 L496,140.3" stroke="#ececec" stroke-width="0.6" fill="none"/>
<polygon points="489.5,91.8 495.6,88.0 495.6,142.0 489.5,146.2" fill="#d4d4d4" stroke="#8f8f8f" stroke-width="0.6"/>
<polygon points="460.0,80.4 466.4,76.6 495.6,88.0 489.5,91.8" fill="#e9e9e9" stroke="#9a9a9a" stroke-width="0.6"/>
<polygon points="482.6,96.5 489.5,91.8 489.5,146.2 482.6,150.6" fill="#f6f6f1" stroke="#adadA0" stroke-width="0.6"/>
<polygon points="484.2,95.4 486.6,93.8 486.6,148.0 484.2,149.6" fill="#efe9c4"/>
<polygon points="453.2,85.0 460.0,80.4 489.5,91.8 482.6,96.5" fill="#f5f5f2" stroke="#a8a8a0" stroke-width="0.6"/>
<path d="M453.4,84.8 L480.5,95.4 Q482.8,96.4 482.8,99 V148.6 Q482.8,151.6 480.6,152.4 L479.3,153.3 V99.3 L449.9,87.7 Z" fill="#f4f4f4" stroke="#9a9a9a" stroke-width="0.7"/>
<path d="M449.9,91 Q449.9,86.6 453.4,88 L476.3,97.2 Q479.3,98.4 479.3,101.8 V150 Q479.3,154.4 476,153 L453.2,142.2 Q449.9,140.6 449.9,137 Z" fill="url(#fpg)" stroke="#8f8f8f" stroke-width="0.9"/>
<line x1="457.9" y1="99.2" x2="481.2" y2="82.9" stroke="#4f5054" stroke-width="2.3"/>
<line x1="446.8" y1="150.6" x2="458" y2="144.2" stroke="#4f5054" stroke-width="2.3"/>
<line x1="456.5" y1="152.2" x2="467.4" y2="145.4" stroke="#4f5054" stroke-width="2.3"/>
<ellipse cx="463" cy="96.2" rx="2.9" ry="3.6" fill="#e9dfbd" stroke="#8c7d58" stroke-width="0.6"/>
<ellipse cx="463" cy="145.4" rx="2.9" ry="3.6" fill="#e9dfbd" stroke="#8c7d58" stroke-width="0.6"/>
<path d="M435.6,158 L440.4,149.2 L442.6,149.4 Q443.8,158.6 449.6,160.6 Q454.2,161.4 455.2,152 L457.2,152.4 L459.3,167.8 L454.6,168.6 L436.2,161 Z" fill="#efefef" stroke="#8c8c8c" stroke-width="0.8"/>
<path d="M435.6,158 L454.2,165.6 L459.2,165 L459.3,167.8 L454.6,168.6 L436.2,161 Z" fill="#c4c4c4" stroke="#8c8c8c" stroke-width="0.6"/>
<path d="M454.2,165.6 L455.2,152" stroke="#9a9a9a" stroke-width="0.6" fill="none"/>
</g>
<g transform="translate(1104.5,55.5) scale(1.0)" stroke="#a9a9a9" stroke-width="0.9" fill="url(#capg)" stroke-linejoin="round">
<path d="M10,16.5 L15.5,9.2 M10,9.2 H17" fill="none" stroke="#a9a9a9" stroke-width="0.8"/>
<path d="M16.5,7 h3.2 v1.3 h5.3 v-0.8 h1.2 v3.4 h-1.2 v-0.8 h-5.3 v1.3 h-3.2 z" fill="#f1f1f1" stroke="#8f8f8f" stroke-width="0.7"/>
<path d="M14,93.6 H17" fill="none" stroke="#a9a9a9" stroke-width="0.8"/>
<path d="M16.5,91.4 h3.2 v1.3 h5.3 v-0.8 h1.2 v3.4 h-1.2 v-0.8 h-5.3 v1.3 h-3.2 z" fill="#f1f1f1" stroke="#8f8f8f" stroke-width="0.7"/>
<path d="M-7,2 V4.6 Q-5.6,5.4 -5.6,6.4 V7.4 Q-10.2,9 -10.4,13 L-15.2,86.5 V92 Q-15,96 -10.5,97.3 L-6,98.4 V105 Q0,107.6 6,105 V98.4 L10.5,97.3 Q15,96 15.2,92 V86.5 L10.4,13 Q10.2,9 5.6,7.4 V6.4 Q5.6,5.4 7,4.6 V2 Z"/>
<ellipse cx="0" cy="2" rx="7" ry="2" fill="#fbfbfb"/>
<path d="M-7,4.6 Q0,7 7,4.6 M-10.3,13.5 Q0,17.8 10.3,13.5 M-15.2,86.5 Q0,91 15.2,86.5 M-15.2,89.5 Q0,94 15.2,89.5 M-6,100.5 Q0,102.6 6,100.5 M-6,102.7 Q0,104.8 6,102.7 M-10.5,97.3 Q0,100.5 10.5,97.3" fill="none"/>
</g>
</svg>
</div>
</body>
</html>
